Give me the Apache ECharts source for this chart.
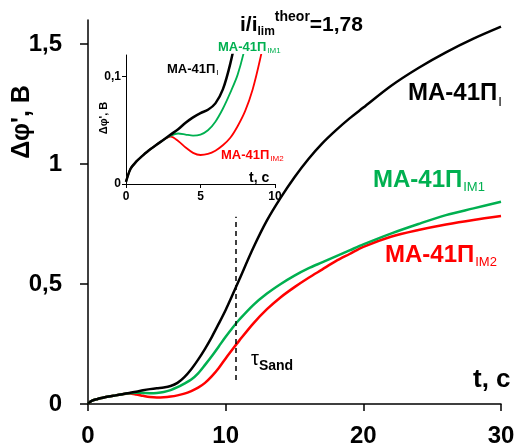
<!DOCTYPE html>
<html><head><meta charset="utf-8">
<script src="https://cdn.jsdelivr.net/npm/echarts@6/dist/echarts.min.js"></script>
<style>html,body{margin:0;padding:0;background:#fff}#c{width:520px;height:448px}</style>
</head><body><div id="c"></div>
<script>
// time, s
const times = [0, 0.3, 0.7, 1, 1.5, 2, 2.5, 3, 3.5, 4, 4.5, 5, 5.5, 6, 6.5, 7, 7.5, 8, 8.5, 9, 9.5, 10, 10.5, 11, 12, 13, 14, 15, 16, 17, 18, 19, 20, 22, 24, 26, 28, 30];
// Δφ', V
const valuesI = [0.002, 0.014, 0.021, 0.025, 0.031, 0.036, 0.041, 0.046, 0.051, 0.057, 0.062, 0.066, 0.069, 0.075, 0.088, 0.112, 0.145, 0.185, 0.23, 0.28, 0.335, 0.392, 0.455, 0.52, 0.65, 0.765, 0.86, 0.945, 1.02, 1.085, 1.14, 1.19, 1.235, 1.325, 1.4, 1.465, 1.522, 1.572];
const valuesIM1 = [0.002, 0.014, 0.021, 0.025, 0.031, 0.036, 0.041, 0.045, 0.047, 0.046, 0.045, 0.046, 0.05, 0.058, 0.07, 0.085, 0.102, 0.128, 0.163, 0.2, 0.24, 0.28, 0.318, 0.352, 0.412, 0.46, 0.5, 0.535, 0.565, 0.59, 0.615, 0.64, 0.665, 0.71, 0.75, 0.787, 0.815, 0.843];
const valuesIM2 = [0.002, 0.014, 0.021, 0.025, 0.031, 0.036, 0.041, 0.044, 0.04, 0.034, 0.029, 0.027, 0.028, 0.031, 0.036, 0.043, 0.054, 0.068, 0.088, 0.116, 0.15, 0.19, 0.228, 0.265, 0.335, 0.395, 0.445, 0.487, 0.525, 0.56, 0.595, 0.625, 0.655, 0.697, 0.725, 0.748, 0.767, 0.783];
const sandTime = 10.75;
const sandLine = [0.1, 0.78];
const seriesNames = ['MA-41П_I', 'MA-41П_IM1', 'MA-41П_IM2'];

const FONT = '"Liberation Sans", Arial, sans-serif';
const BLACK = '#000000', GREEN = '#00b050', RED = '#ff0000';
const comma = v => String(v).replace('.', ',');
const pairs = vals => times.map((t, i) => [t, vals[i]]);

const chart = echarts.init(document.getElementById('c'), null, {renderer: 'canvas'});

const mctx = document.createElement('canvas').getContext('2d');
function width(text, font) { mctx.font = font; return mctx.measureText(text).width; }

// chain of text pieces: [text, size, bold, dy, gapAfter]
function chain(x, y, pieces, color) {
  const out = [];
  let cx = x;
  pieces.forEach(p => {
    const font = (p[2] ? 'bold ' : '') + p[1] + 'px ' + FONT;
    out.push({type: 'text', x: cx, y: y + (p[3] || 0), z: 100,
      style: {text: p[0], fill: color, font: font, align: 'left', verticalAlign: 'middle'}});
    cx += width(p[0], font) + (p[4] || 0);
  });
  return out;
}

const axisCommon = {
  axisLine: {show: true, onZero: false, lineStyle: {color: BLACK, width: 1.5}},
  splitLine: {show: false}
};

const SM = 0.3;
const option = {
  animation: false,
  backgroundColor: '#ffffff',
  grid: [
    {left: 88, right: 19, top: 20, bottom: 44},
    {left: 126, right: 245, top: 55, bottom: 264}
  ],
  xAxis: [
    Object.assign({}, axisCommon, {type: 'value', gridIndex: 0, min: 0, max: 30, interval: 10,
      axisTick: {show: true, length: 7, lineStyle: {color: BLACK, width: 1.5}},
      axisLabel: {fontSize: 24, fontWeight: 'bold', color: BLACK, fontFamily: FONT, margin: 20, formatter: comma}}),
    Object.assign({}, axisCommon, {type: 'value', gridIndex: 1, min: 0, max: 10, interval: 5,
      axisLine: {show: true, onZero: false, lineStyle: {color: BLACK, width: 1}},
      axisTick: {show: true, length: 4, lineStyle: {color: BLACK, width: 1}},
      axisLabel: {fontSize: 12, fontWeight: 'bold', color: BLACK, fontFamily: FONT, margin: 7, formatter: comma}})
  ],
  yAxis: [
    Object.assign({}, axisCommon, {type: 'value', gridIndex: 0, min: 0, max: 1.6, interval: 0.5,
      axisTick: {show: true, length: 8, lineStyle: {color: BLACK, width: 1.5}},
      axisLabel: {fontSize: 24, fontWeight: 'bold', color: BLACK, fontFamily: FONT, margin: 26, formatter: comma,
        showMaxLabel: false}}),
    Object.assign({}, axisCommon, {type: 'value', gridIndex: 1, min: 0, max: 0.12, interval: 0.1,
      axisLine: {show: true, onZero: false, lineStyle: {color: BLACK, width: 1}},
      axisTick: {show: true, length: 4, lineStyle: {color: BLACK, width: 1}},
      axisLabel: {fontSize: 12, fontWeight: 'bold', color: BLACK, fontFamily: FONT, margin: 5, formatter: comma,
        showMaxLabel: false}})
  ],
  series: [
    {name: seriesNames[0], type: 'line', xAxisIndex: 0, yAxisIndex: 0, data: pairs(valuesI), smooth: SM, symbol: 'none',
      lineStyle: {color: BLACK, width: 2.5}, z: 3,
      markLine: {silent: true, symbol: 'none', label: {show: false},
        lineStyle: {color: BLACK, width: 1.5, type: [5, 4]},
        data: [[{coord: [sandTime, sandLine[0]]}, {coord: [sandTime, sandLine[1]]}]]}},
    {name: seriesNames[1], type: 'line', xAxisIndex: 0, yAxisIndex: 0, data: pairs(valuesIM1), smooth: SM, symbol: 'none',
      lineStyle: {color: GREEN, width: 2.5}, z: 2},
    {name: seriesNames[2], type: 'line', xAxisIndex: 0, yAxisIndex: 0, data: pairs(valuesIM2), smooth: SM, symbol: 'none',
      lineStyle: {color: RED, width: 2.5}, z: 1},
    {name: seriesNames[0] + ' inset', type: 'line', xAxisIndex: 1, yAxisIndex: 1, data: pairs(valuesI), smooth: SM, symbol: 'none', clip: true,
      lineStyle: {color: BLACK, width: 2.5}, z: 3},
    {name: seriesNames[1] + ' inset', type: 'line', xAxisIndex: 1, yAxisIndex: 1, data: pairs(valuesIM1), smooth: SM, symbol: 'none', clip: true,
      lineStyle: {color: GREEN, width: 1.8}, z: 2},
    {name: seriesNames[2] + ' inset', type: 'line', xAxisIndex: 1, yAxisIndex: 1, data: pairs(valuesIM2), smooth: SM, symbol: 'none', clip: true,
      lineStyle: {color: RED, width: 1.8}, z: 1}
  ],
  graphic: [].concat(
    // title
    chain(240, 25, [['i/i', 21, true, 0], ['lim', 12, true, 7, 0], ['theor', 14, true, -8], ['=1,78', 21, true, 0]], BLACK),
    // main labels
    chain(408, 93, [['MA-41П', 24, true, 0, 1], ['I', 13, false, 9]], BLACK),
    chain(373, 180, [['MA-41П', 24, true, 0, 1], ['IM1', 13, false, 7]], GREEN),
    chain(385, 255, [['MA-41П', 24, true, 0, 1], ['IM2', 13, false, 7]], RED),
    // inset labels
    chain(167, 69, [['MA-41П', 13, true, 0, 1], ['I', 8, false, 4]], BLACK),
    chain(218, 47, [['MA-41П', 13, true, 0, 1], ['IM1', 8, false, 4]], GREEN),
    chain(221, 155, [['MA-41П', 13, true, 0, 1], ['IM2', 8, false, 4]], RED),
    // tau Sand
    chain(251, 359, [['τ', 20, false, 0, 0], ['Sand', 14, true, 7]], BLACK),
    // axis names
    chain(473, 380, [['t, c', 26, true, 0]], BLACK),
    chain(249, 178, [['t, c', 14, true, 0]], BLACK),
    [
      {type: 'text', x: 22, y: 122, rotation: Math.PI / 2, z: 100,
        style: {text: 'Δφ\', B', fill: BLACK, font: 'bold 25px ' + FONT, align: 'center', verticalAlign: 'middle'}},
      {type: 'text', x: 104, y: 118, rotation: Math.PI / 2, z: 100,
        style: {text: 'Δφ\', B', fill: BLACK, font: 'bold 11px ' + FONT, align: 'center', verticalAlign: 'middle'}}
    ]
  )
};
chart.setOption(option);
</script></body></html>
